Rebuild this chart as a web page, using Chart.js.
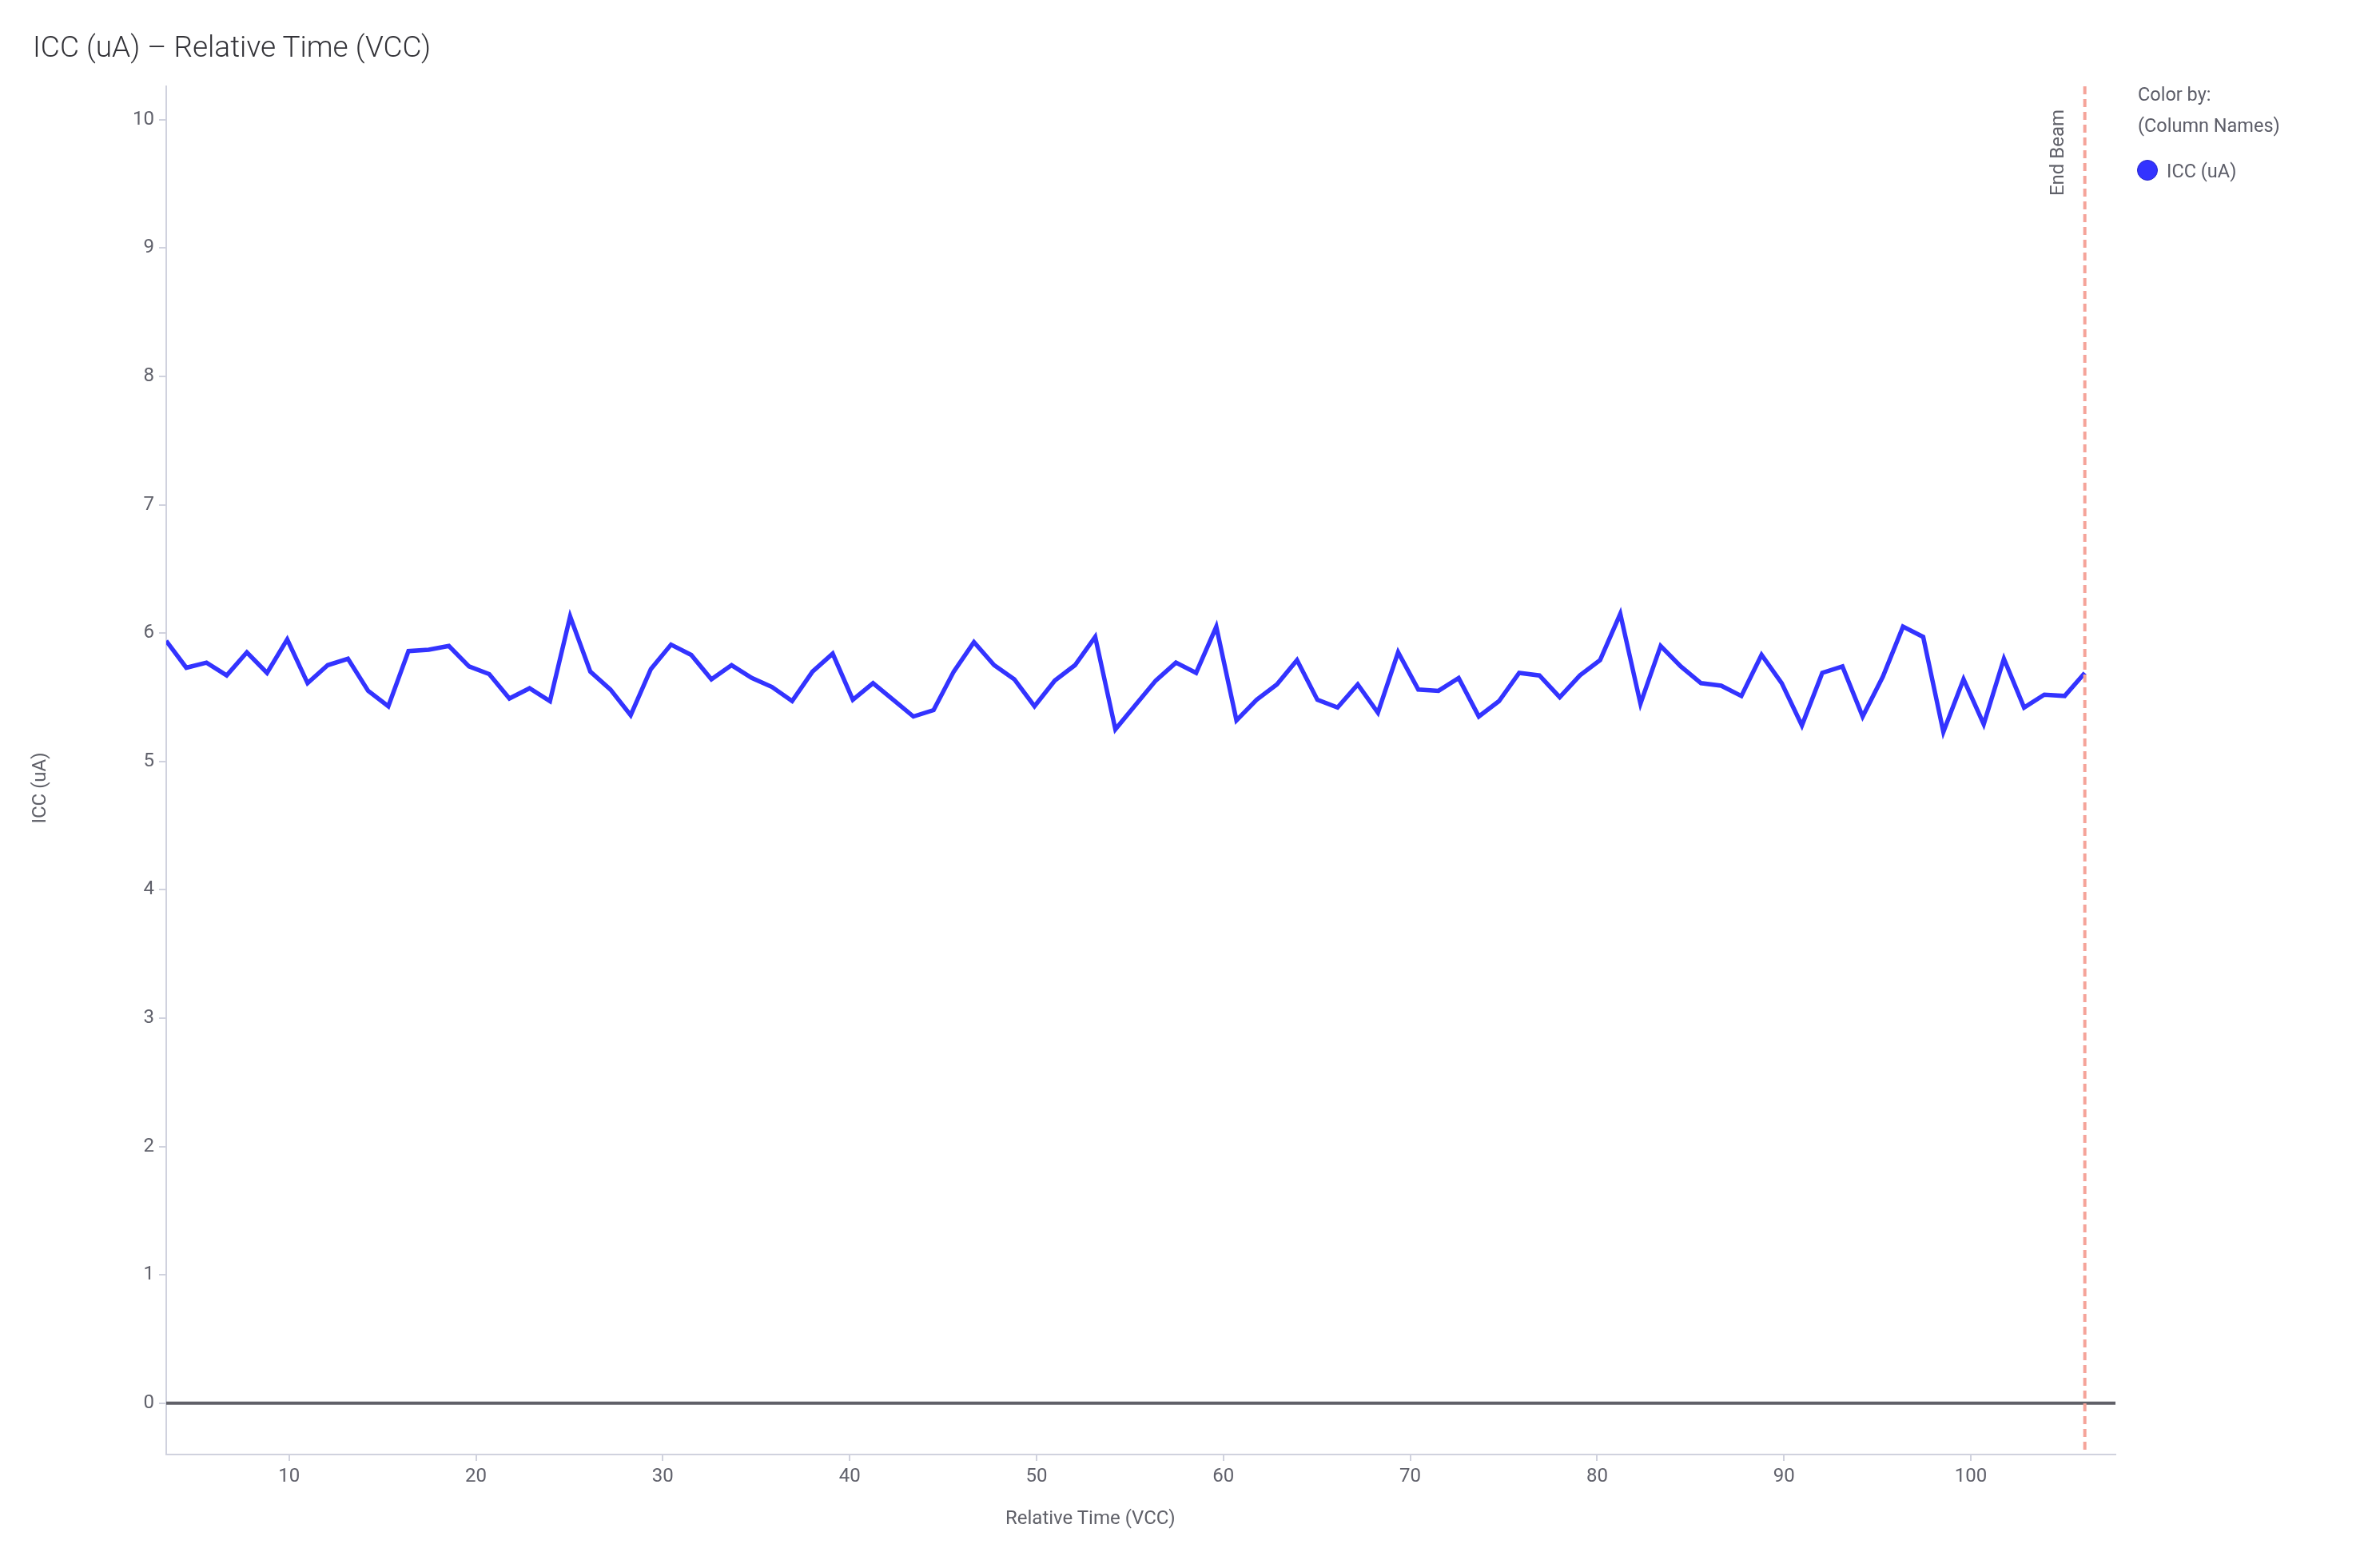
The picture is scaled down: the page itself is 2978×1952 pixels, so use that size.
<!DOCTYPE html>
<html>
<head>
<meta charset="utf-8">
<title>ICC (uA) – Relative Time (VCC)</title>
<script src="https://cdn.jsdelivr.net/npm/chart.js@4.4.1/dist/chart.umd.min.js"></script>
<style>
  html, body { margin: 0; padding: 0; background: #fff; }
  body { width: 2978px; height: 1952px; position: relative; overflow: hidden; font-family: Roboto, sans-serif; }
  #wrap { position: absolute; left: 0; top: 0; width: 2978px; height: 1952px; }
  .txt { position: absolute; white-space: nowrap; line-height: 1; }
  .rot { position: absolute; width: 400px; height: 24px; line-height: 24px; font-size: 24px; text-align: center;
         transform: rotate(-90deg); transform-origin: 50% 50%; color: #5f6068; white-space: nowrap; }
  #title { left: 41px; top: 40px; font-size: 37px; font-weight: 300; color: #333338; }
  .leg { left: 2675px; font-size: 23.5px; color: #5c5d68; }
  #dot { position: absolute; left: 2674px; top: 200px; width: 24px; height: 24px; border-radius: 50%;
         background: #3333ff; border: 1px solid #2626c8; }
</style>
</head>
<body>
<div id="wrap"><canvas id="chart"></canvas></div>

<div id="title" class="txt">ICC (uA) – Relative Time (VCC)</div>
<div class="txt leg" style="top:107px">Color by:</div>
<div class="txt leg" style="top:146px">(Column Names)</div>
<div id="dot"></div>
<div class="txt leg" style="left:2711px; top:203px">ICC (uA)</div>
<div class="txt" style="left:1258px; top:1887px; font-size:24px; color:#5f6068">Relative Time (VCC)</div>
<div class="rot" style="left:-151px; top:974px">ICC (uA)</div>
<div class="rot" style="left:2374px; top:179px">End Beam</div>

<script>
// --- Data ---

const relTime = [
  3.42, 4.50, 5.58, 6.66, 7.74, 8.82, 9.90, 10.99, 12.07, 13.15,
  14.23, 15.31, 16.39, 17.47, 18.55, 19.63, 20.71, 21.79, 22.87, 23.96,
  25.04, 26.12, 27.20, 28.28, 29.36, 30.44, 31.52, 32.60, 33.68, 34.76,
  35.84, 36.92, 38.01, 39.09, 40.17, 41.25, 42.33, 43.41, 44.49, 45.57,
  46.65, 47.73, 48.81, 49.89, 50.98, 52.06, 53.14, 54.22, 55.30, 56.38,
  57.46, 58.54, 59.62, 60.70, 61.78, 62.86, 63.94, 65.03, 66.11, 67.19,
  68.27, 69.35, 70.43, 71.51, 72.59, 73.67, 74.75, 75.83, 76.91, 78.00,
  79.08, 80.16, 81.24, 82.32, 83.40, 84.48, 85.56, 86.64, 87.72, 88.80,
  89.88, 90.96, 92.05, 93.13, 94.21, 95.29, 96.37, 97.45, 98.53, 99.61,
  100.69, 101.77, 102.85, 103.93, 105.02, 106.10
];

const icc = [
  5.94, 5.73, 5.77, 5.67, 5.85, 5.69, 5.95, 5.61, 5.75, 5.80,
  5.55, 5.43, 5.86, 5.87, 5.90, 5.74, 5.68, 5.49, 5.57, 5.47,
  6.13, 5.70, 5.56, 5.36, 5.72, 5.91, 5.83, 5.64, 5.75, 5.65,
  5.58, 5.47, 5.70, 5.84, 5.48, 5.61, 5.48, 5.35, 5.40, 5.70,
  5.93, 5.75, 5.64, 5.43, 5.63, 5.75, 5.97, 5.25, 5.44, 5.63,
  5.77, 5.69, 6.05, 5.32, 5.48, 5.60, 5.79, 5.48, 5.42, 5.60,
  5.38, 5.85, 5.56, 5.55, 5.65, 5.35, 5.47, 5.69, 5.67, 5.50,
  5.67, 5.79, 6.15, 5.45, 5.90, 5.74, 5.61, 5.59, 5.51, 5.83,
  5.61, 5.28, 5.69, 5.74, 5.35, 5.66, 6.05, 5.97, 5.23, 5.64,
  5.29, 5.80, 5.42, 5.52, 5.51, 5.69
];

const endBeam = 106.10;
const xRange = [3.425, 107.74];
const yRange = [-0.40, 10.26];

// --- Reference lines: zero line and End Beam marker ---

const refLines = {
  id: 'refLines',
  afterDatasetsDraw(chart) {
    const { ctx, chartArea: a, scales: { x, y } } = chart;
    ctx.save();
    const y0 = y.getPixelForValue(0);
    ctx.beginPath();
    ctx.moveTo(a.left, y0);
    ctx.lineTo(a.right, y0);
    ctx.strokeStyle = '#606068';
    ctx.lineWidth = 4;
    ctx.stroke();

    const xb = x.getPixelForValue(endBeam);
    ctx.beginPath();
    ctx.setLineDash([10, 6]);
    ctx.moveTo(xb, a.top);
    ctx.lineTo(xb, a.bottom - 4);
    ctx.strokeStyle = '#f5a49a';
    ctx.lineWidth = 4;
    ctx.stroke();
    ctx.restore();
  }
};

const tickFont = { family: 'Roboto', size: 24 };
const axisGrey = '#d0d2de';

new Chart(document.getElementById('chart'), {
  type: 'line',
  data: {
    datasets: [{
      label: 'ICC (uA)',
      data: relTime.map((t, i) => ({ x: t, y: icc[i] })),
      borderColor: '#3333ff',
      borderWidth: 5.5,
      pointRadius: 0,
      tension: 0,
      fill: false,
    }],
  },
  options: {
    responsive: true,
    maintainAspectRatio: false,
    animation: false,
    layout: { padding: { top: 108, right: 331, left: 0, bottom: 0 } },
    plugins: { legend: { display: false }, title: { display: false }, tooltip: { enabled: false } },
    scales: {
      x: {
        type: 'linear',
        min: xRange[0],
        max: xRange[1],
        afterFit: s => { s.height = 132; },
        border: { color: axisGrey, width: 2 },
        grid: { drawOnChartArea: false, color: axisGrey, tickLength: 8, lineWidth: 2 },
        ticks: { stepSize: 10, includeBounds: false, color: '#60616b', font: tickFont, padding: 6, maxRotation: 0 },
      },
      y: {
        min: yRange[0],
        max: yRange[1],
        afterFit: s => { s.width = 208; },
        border: { color: axisGrey, width: 2 },
        grid: { drawOnChartArea: false, color: axisGrey, tickLength: 9, lineWidth: 2 },
        ticks: { stepSize: 1, includeBounds: false, color: '#60616b', font: tickFont, padding: 6 },
      },
    },
  },
  plugins: [refLines],
});
</script>
</body>
</html>
